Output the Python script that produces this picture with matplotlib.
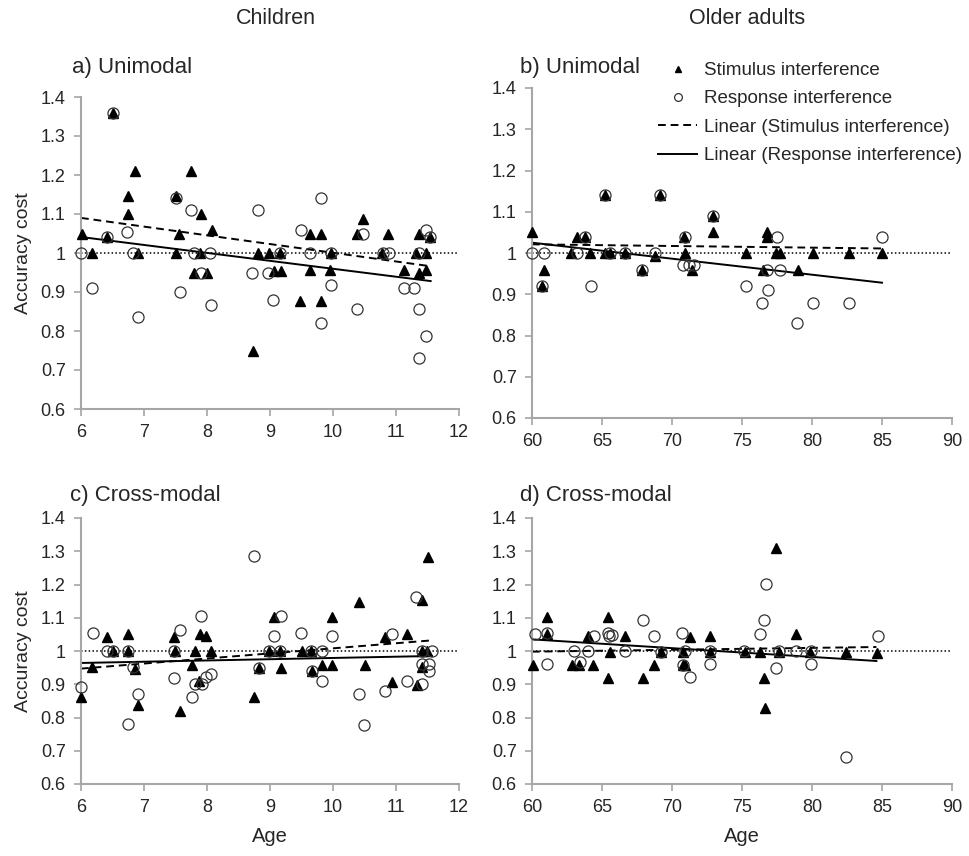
import matplotlib
matplotlib.use("Agg")
import matplotlib.pyplot as plt
import numpy as np
from matplotlib.ticker import FuncFormatter

plt.rcParams['font.family'] = ['Liberation Sans', 'DejaVu Sans']

# ---- data ----
# a) children, unimodal
a_stim_age = [6.01, 6.18, 6.51, 6.42, 6.74, 6.74, 6.86, 6.90, 7.50, 7.50, 7.56, 7.75, 7.91,
              8.08, 7.80, 8.00, 7.89, 8.73, 8.81, 8.98, 9.16, 9.06, 9.17, 9.48, 9.63, 9.81,
              9.63, 9.81, 9.95, 9.97, 10.38, 10.47, 10.78, 10.88, 11.13, 11.31, 11.36, 11.37,
              11.47, 11.48, 11.54]
a_stim_acc = [1.05, 1.00, 1.36, 1.04, 1.145, 1.10, 1.21, 1.00, 1.145, 1.00, 1.05, 1.21, 1.10,
              1.06, 0.95, 0.95, 1.00, 0.75, 1.00, 1.00, 1.00, 0.955, 0.955, 0.877, 1.05, 1.05,
              0.957, 0.877, 0.957, 1.00, 1.05, 1.087, 1.00, 1.05, 0.957, 1.00, 1.05, 0.95,
              1.00, 0.957, 1.04]
a_resp_age = [6.00, 6.18, 6.51, 6.42, 6.73, 6.83, 6.91, 7.50, 7.57, 7.75, 7.79, 7.91, 8.04,
              8.07, 8.81, 8.72, 8.97, 9.05, 9.16, 9.49, 9.63, 9.81, 9.97, 9.97, 9.81, 10.47,
              10.38, 10.79, 10.89, 11.13, 11.29, 11.36, 11.47, 11.54, 11.37, 11.47, 11.37]
a_resp_acc = [1.00, 0.91, 1.36, 1.04, 1.055, 1.00, 0.836, 1.14, 0.90, 1.11, 1.00, 0.95, 1.00,
              0.866, 1.11, 0.95, 0.95, 0.88, 1.00, 1.06, 1.00, 1.14, 1.00, 0.917, 0.82, 1.05,
              0.857, 1.00, 1.00, 0.91, 0.91, 0.857, 1.06, 1.04, 1.00, 0.786, 0.73]
a_fit_age = [6.0, 11.55]
a_stim_fit = [1.09, 0.966]
a_resp_fit = [1.041, 0.928]

# b) older adults, unimodal
b_stim_age = [60.0, 60.83, 60.71, 62.79, 63.21, 63.81, 64.17, 65.19, 65.6, 65.24, 66.62,
              67.86, 68.76, 69.17, 70.83, 70.95, 71.43, 72.93, 72.93, 76.76, 76.76, 75.29,
              77.43, 77.72, 80.1, 82.67, 84.98, 76.48, 78.98]
b_stim_acc = [1.05, 0.96, 0.92, 1.00, 1.04, 1.04, 1.00, 1.00, 1.00, 1.14, 1.00,
              0.96, 0.992, 1.14, 1.04, 1.00, 0.96, 1.09, 1.05, 1.05, 1.04, 1.00,
              1.00, 1.00, 1.00, 1.00, 1.00, 0.96, 0.96]
b_resp_age = [60.0, 60.83, 60.71, 63.21, 63.81, 64.24, 65.6, 65.24, 66.62, 67.86, 68.81,
              69.17, 70.9, 70.79, 71.19, 71.55, 72.93, 77.48, 84.98, 76.76, 77.72, 75.26,
              76.83, 76.45, 80.1, 82.67, 78.9]
b_resp_acc = [1.00, 1.00, 0.92, 1.00, 1.04, 0.92, 1.00, 1.14, 1.00, 0.96, 1.00,
              1.14, 1.04, 0.97, 0.97, 0.97, 1.09, 1.04, 1.04, 0.96, 0.96, 0.92,
              0.91, 0.88, 0.88, 0.88, 0.83]
b_fit_age = [60.0, 85.0]
b_stim_fit = [1.021, 1.011]
b_resp_fit = [1.025, 0.928]

# c) children, cross-modal
c_stim_age = [6.00, 6.18, 6.42, 6.51, 6.74, 6.74, 6.85, 6.91, 7.48, 7.49, 7.57, 7.76, 7.81,
              7.89, 7.99, 8.07, 7.88, 8.74, 8.82, 8.99, 9.18, 9.16, 9.06, 9.50, 9.65, 9.66,
              9.83, 9.98, 9.99, 10.42, 10.50, 10.82, 10.93, 11.17, 11.33, 11.41, 11.51, 11.41,
              11.49, 11.41]
c_stim_acc = [0.861, 0.952, 1.042, 1.00, 1.052, 1.00, 0.947, 0.839, 1.042, 1.00, 0.82, 0.957,
              1.00, 1.052, 1.044, 1.00, 0.911, 0.861, 0.949, 1.00, 0.949, 1.00, 1.103, 1.00,
              1.00, 0.94, 0.957, 1.103, 0.959, 1.148, 0.959, 1.042, 0.908, 1.052, 0.899, 1.153,
              1.282, 1.00, 1.00, 0.952]
c_resp_age = [6.00, 6.19, 6.41, 6.51, 6.74, 6.83, 6.74, 6.91, 7.48, 7.48, 7.57, 7.76, 7.81,
              7.90, 7.92, 7.99, 8.07, 8.74, 8.82, 8.99, 9.17, 9.06, 9.16, 9.49, 9.65, 9.66,
              9.83, 9.83, 9.99, 10.41, 10.49, 10.82, 10.94, 11.18, 11.32, 11.41, 11.57, 11.41,
              11.52, 11.52, 11.41]
c_resp_acc = [0.891, 1.055, 1.00, 1.00, 1.00, 0.952, 0.78, 0.871, 1.00, 0.919, 1.062, 0.861,
              0.901, 1.106, 0.901, 0.921, 0.931, 1.286, 0.949, 1.00, 1.105, 1.045, 1.00, 1.054,
              1.00, 0.94, 1.00, 0.911, 1.044, 0.871, 0.778, 0.881, 1.052, 0.909, 1.163, 1.00,
              1.00, 0.962, 0.962, 0.94, 0.901]
c_fit_age = [6.0, 11.57]
c_stim_fit = [0.947, 1.032]
c_resp_fit = [0.964, 0.985]

# d) older adults, cross-modal
d_stim_age = [60.1, 61.07, 61.07, 62.86, 63.38, 64.0, 64.36, 65.43, 65.6, 65.4, 66.67, 67.9,
              68.69, 69.24, 70.76, 70.95, 71.31, 70.76, 72.74, 72.74, 75.19, 76.32, 76.58,
              76.67, 77.42, 77.63, 78.85, 79.86, 82.44, 84.64]
d_stim_acc = [0.959, 1.102, 1.052, 0.959, 0.959, 1.044, 0.959, 1.102, 0.997, 0.92, 1.044, 0.92,
              0.959, 0.997, 0.959, 0.959, 1.042, 0.997, 1.044, 0.997, 0.997, 0.997, 0.92,
              0.83, 1.31, 0.997, 1.052, 0.997, 0.997, 0.994]
d_resp_age = [60.19, 61.07, 61.07, 62.98, 63.45, 64.0, 64.4, 65.43, 65.52, 65.7, 66.67, 67.93,
              68.74, 69.24, 70.71, 70.76, 70.95, 71.31, 72.74, 72.74, 75.12, 76.7, 76.58,
              76.32, 77.66, 77.42, 78.85, 79.9, 79.9, 82.44, 84.69]
d_resp_acc = [1.052, 1.054, 0.962, 1.00, 0.967, 1.00, 1.044, 1.054, 1.044, 1.047, 1.00, 1.094,
              1.044, 0.997, 1.054, 0.959, 1.00, 0.922, 0.962, 1.00, 1.00, 1.202, 1.094,
              1.052, 1.00, 0.949, 1.00, 1.00, 0.962, 0.682, 1.045]
d_fit_age = [60.0, 84.6]
d_stim_fit = [0.998, 1.012]
d_resp_fit = [1.035, 0.970]

W, H = 969, 856
fig = plt.figure(figsize=(W / 100, H / 100), dpi=100)

def box(x0, x1, ytop, ybot):
    return [x0 / W, 1 - ybot / H, (x1 - x0) / W, (ybot - ytop) / H]

ax_a = fig.add_axes(box(81, 459, 97, 409))
ax_b = fig.add_axes(box(532, 952, 88, 418))
ax_c = fig.add_axes(box(81, 459, 518, 784))
ax_d = fig.add_axes(box(532, 952, 518, 784))

panels = [
    (ax_a, a_stim_age, a_stim_acc, a_resp_age, a_resp_acc, a_fit_age, a_stim_fit, a_resp_fit, (6, 12), np.arange(6, 13, 1)),
    (ax_b, b_stim_age, b_stim_acc, b_resp_age, b_resp_acc, b_fit_age, b_stim_fit, b_resp_fit, (60, 90), np.arange(60, 91, 5)),
    (ax_c, c_stim_age, c_stim_acc, c_resp_age, c_resp_acc, c_fit_age, c_stim_fit, c_resp_fit, (6, 12), np.arange(6, 13, 1)),
    (ax_d, d_stim_age, d_stim_acc, d_resp_age, d_resp_acc, d_fit_age, d_stim_fit, d_resp_fit, (60, 90), np.arange(60, 91, 5)),
]

grey = '#a6a6a6'
txt = '#262626'
for ax, sx, sy, rx, ry, fx, fs, fr, xlim, xt in panels:
    ax.axhline(1.0, color='black', lw=1.1, ls=(0, (1, 1.5)), zorder=1)
    ax.plot(sx, sy, ls='none', marker='^', ms=7, color='black', zorder=3,
            label='Stimulus interference')
    ax.plot(rx, ry, ls='none', marker='o', ms=8, mfc='none', mec='#333333', mew=0.9,
            zorder=4, label='Response interference')
    ax.plot(fx, fs, color='black', lw=1.4, ls=(0, (4, 2.5)), zorder=2,
            label='Linear (Stimulus interference)')
    ax.plot(fx, fr, color='black', lw=1.4, zorder=2,
            label='Linear (Response interference)')
    ax.set_xlim(*xlim)
    ax.set_ylim(0.6, 1.4)
    ax.set_xticks(xt)
    ax.set_yticks(np.round(np.arange(0.6, 1.41, 0.1), 1))
    ax.yaxis.set_major_formatter(FuncFormatter(lambda v, p: f'{round(v, 1):g}'))
    for s in ['top', 'right']:
        ax.spines[s].set_visible(False)
    for s in ['left', 'bottom']:
        ax.spines[s].set_color(grey)
        ax.spines[s].set_linewidth(1.5)
    ax.tick_params(direction='out', length=5, width=1.2, color=grey, labelcolor=txt,
                   labelsize=13, pad=6)
    for ln in ax.lines:
        ln.set_clip_on(False)

for ax in (ax_a, ax_c):
    ax.set_ylabel('Accuracy cost', fontsize=14, color=txt, labelpad=6)
for ax in (ax_c, ax_d):
    ax.set_xlabel('Age', fontsize=14.5, color=txt, labelpad=8)

ax_b.legend(loc='upper left', bbox_to_anchor=((658 - 532) / 420, 1 + (88 - 62) / 330),
            frameon=False, fontsize=13.5, handlelength=2.1, handletextpad=0.35,
            labelspacing=0.6, borderaxespad=0, borderpad=0, markerscale=0.7,
            labelcolor=txt)

fig.text(276 / W, 1 - 18 / H, 'Children', ha='center', va='center', fontsize=15.5, color=txt)
fig.text(747 / W, 1 - 18 / H, 'Older adults', ha='center', va='center', fontsize=15.5, color=txt)
fig.text(72 / W, 1 - 68 / H, 'a) Unimodal', ha='left', va='center', fontsize=16, color=txt)
fig.text(520 / W, 1 - 68 / H, 'b) Unimodal', ha='left', va='center', fontsize=16, color=txt)
fig.text(70 / W, 1 - 495 / H, 'c) Cross-modal', ha='left', va='center', fontsize=16, color=txt)
fig.text(520 / W, 1 - 495 / H, 'd) Cross-modal', ha='left', va='center', fontsize=16, color=txt)

fig.savefig('out.png', dpi=100)
